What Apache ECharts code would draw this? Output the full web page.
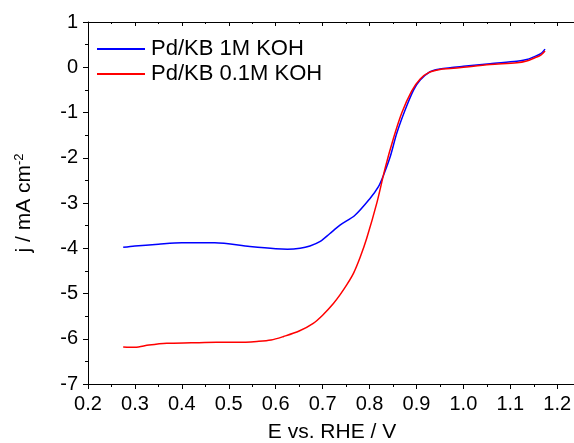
<!DOCTYPE html>
<html>
<head>
<meta charset="utf-8">
<script src="https://cdn.jsdelivr.net/npm/echarts@6/dist/echarts.min.js"></script>
<style>
    html, body { margin: 0; padding: 0; background: #fff; }
    #chart { width: 574px; height: 443px; }
</style>
</head>
<body>
<div id="chart"></div>
<script>
// potential (V vs RHE) and current density (mA cm-2)
const eBlue = [0.275, 0.30, 0.35, 0.40, 0.47, 0.545, 0.60, 0.625, 0.652, 0.673, 0.695, 0.715, 0.737, 0.769, 0.801, 0.819, 0.830, 0.844, 0.858, 0.876, 0.894, 0.908, 0.929, 0.95, 0.972, 1.0, 1.057, 1.114, 1.135, 1.15, 1.165, 1.174];
const jBlue = [-3.98, -3.95, -3.91, -3.88, -3.88, -3.96, -4.01, -4.02, -4.0, -3.95, -3.85, -3.68, -3.49, -3.27, -2.90, -2.64, -2.38, -1.98, -1.46, -0.94, -0.50, -0.28, -0.10, -0.04, -0.01, 0.02, 0.08, 0.13, 0.17, 0.23, 0.3, 0.40];

const eRed = [0.275, 0.30, 0.33, 0.368, 0.42, 0.474, 0.52, 0.56, 0.59, 0.617, 0.65, 0.68, 0.70, 0.723, 0.737, 0.752, 0.766, 0.78, 0.794, 0.816, 0.833, 0.851, 0.869, 0.890, 0.908, 0.926, 0.95, 0.972, 1.0, 1.057, 1.114, 1.135, 1.15, 1.165, 1.174];
const jRed = [-6.18, -6.19, -6.14, -6.10, -6.09, -6.08, -6.08, -6.06, -6.03, -5.95, -5.83, -5.66, -5.48, -5.22, -5.03, -4.80, -4.55, -4.20, -3.78, -2.98, -2.24, -1.57, -1.0, -0.52, -0.26, -0.12, -0.05, -0.03, 0.0, 0.06, 0.10, 0.14, 0.20, 0.27, 0.36];

const seriesNames = ["Pd/KB 1M KOH", "Pd/KB 0.1M KOH"];

const chart = echarts.init(document.getElementById("chart"));

const fontFamily = "Liberation Sans, Arial, sans-serif";

chart.setOption({
    animation: false,
    textStyle: { fontFamily: fontFamily },
    grid: {
        left: 88,
        top: 22,
        bottom: 59,
        right: -2,
        outerBoundsMode: "none"
    },
    legend: {
        data: seriesNames,
        orient: "vertical",
        left: 92,
        top: 33,
        itemWidth: 48,
        itemHeight: 2,
        itemGap: 3,
        icon: "rect",
        textStyle: { fontSize: 22, color: "#000", fontFamily: fontFamily, padding: [0, 0, 0, 1] }
    },
    xAxis: [
        {
            type: "value",
            min: 0.2,
            max: 1.24,
            interval: 0.1,
            name: "E vs. RHE / V",
            nameLocation: "middle",
            nameGap: 38,
            nameTextStyle: { fontSize: 21, color: "#000" },
            axisLine: { onZero: false, lineStyle: { color: "#000", width: 1 } },
            axisTick: { length: 5, lineStyle: { color: "#000" } },
            minorTick: { show: true, splitNumber: 2, length: 3, lineStyle: { color: "#000" } },
            axisLabel: {
                fontSize: 20,
                color: "#000",
                margin: 10,
                formatter: v => (v > 1.21 ? "" : v.toFixed(1))
            },
            splitLine: { show: false }
        },
        {
            type: "value",
            position: "top",
            min: 0.2,
            max: 1.24,
            interval: 0.1,
            axisLine: { onZero: false, lineStyle: { color: "#000", width: 1 } },
            axisTick: { inside: true, length: 4, lineStyle: { color: "#000" } },
            minorTick: { show: true, splitNumber: 2, length: 2, lineStyle: { color: "#000" } },
            axisLabel: { show: false },
            splitLine: { show: false }
        }
    ],
    yAxis: {
        type: "value",
        min: -7,
        max: 1,
        interval: 1,
        name: "{b|j / mA cm}{s|-2}",
        nameLocation: "middle",
        nameRotate: 90,
        nameGap: 52,
        nameTextStyle: {
            rich: {
                b: { fontSize: 21, color: "#000", fontFamily: fontFamily },
                s: { fontSize: 13, color: "#000", fontFamily: fontFamily, verticalAlign: "top", padding: [0, 0, 10, 0] }
            }
        },
        axisLine: { onZero: false, lineStyle: { color: "#000", width: 1 } },
        axisTick: { length: 5, lineStyle: { color: "#000" } },
        minorTick: { show: true, splitNumber: 2, length: 3, lineStyle: { color: "#000" } },
        axisLabel: { fontSize: 20, color: "#000", margin: 10 },
        splitLine: { show: false }
    },
    series: [
        {
            name: seriesNames[0],
            type: "line",
            data: eBlue.map((e, i) => [e, jBlue[i]]),
            smooth: 0.3,
            showSymbol: false,
            itemStyle: { color: "#0000ff" },
            lineStyle: { color: "#0000ff", width: 1.5 }
        },
        {
            name: seriesNames[1],
            type: "line",
            data: eRed.map((e, i) => [e, jRed[i]]),
            smooth: 0.3,
            showSymbol: false,
            itemStyle: { color: "#ff0000" },
            lineStyle: { color: "#ff0000", width: 1.5 }
        }
    ]
});
</script>
</body>
</html>
